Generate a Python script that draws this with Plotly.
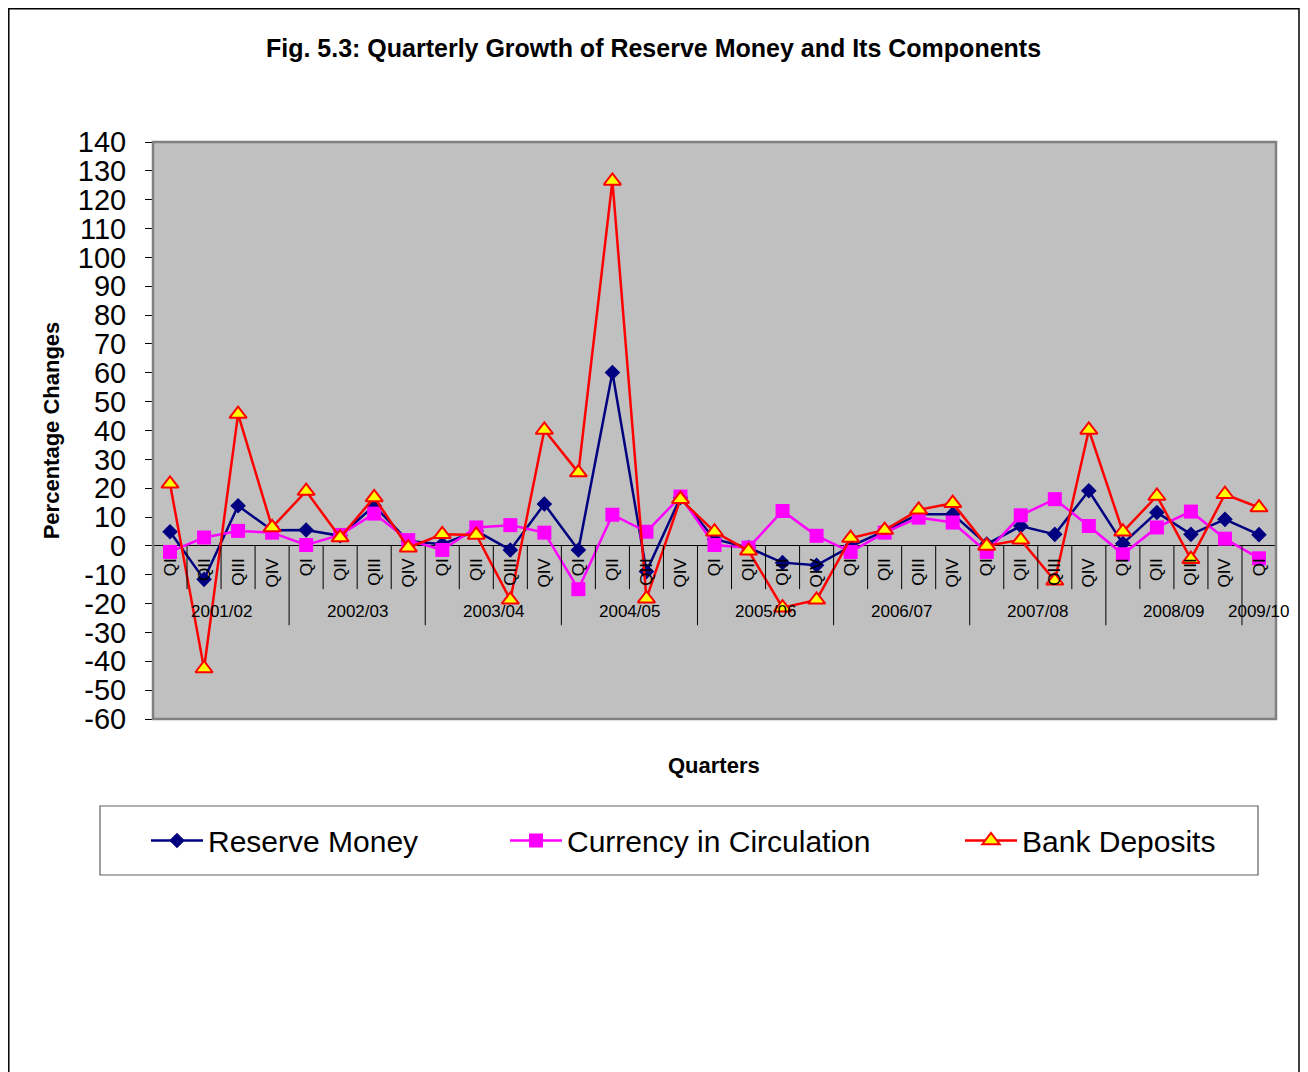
import plotly.graph_objects as go

# Dados
anos = ["2001/02", "2002/03", "2003/04", "2004/05", "2005/06",
        "2006/07", "2007/08", "2008/09", "2009/10"]
trimestres_por_ano = [4, 4, 4, 4, 4, 4, 4, 4, 1]
nomes_trimestre = ["QI", "QII", "QIII", "QIV"]

reserve_money = [4.9, -11.6, 13.9, 5.4, 5.5, 3.5, 13.9, 1.7,
                 0.6, 5.2, -1.4, 14.5, -1.4, 60.1, -8.9, 16.8,
                 2.3, -0.6, -5.8, -6.7, -0.2, 5.2, 11.0, 11.0,
                 0.6, 6.9, 4.0, 19.1, 0.8, 11.6, 4.0, 9.2, 3.9]
currency = [-2.1, 2.9, 5.2, 4.6, 0.3, 3.8, 11.2, 2.0,
            -1.4, 6.4, 7.2, 4.6, -15.0, 10.8, 4.9, 17.1,
            0.3, -0.6, 12.1, 3.5, -2.1, 4.6, 9.8, 8.1,
            -2.1, 10.6, 16.2, 6.9, -2.9, 6.4, 11.9, 2.5, -4.3]
bank_deposits = [21.5, -42.5, 45.7, 6.4, 19.0, 2.9, 16.8, -0.6,
                 4.0, 3.8, -18.7, 40.2, 25.4, 126.5, -18.3, 16.2,
                 4.9, -1.7, -21.4, -18.7, 2.7, 5.5, 12.5, 14.8,
                 0.0, 2.1, -12.1, 40.2, 4.9, 17.3, -4.6, 17.9, 13.3]

y_ticks = list(range(-60, 141, 10))
y_ticktext = [str(v) for v in y_ticks]

# rotulos dos trimestres
rotulos = []
for n in trimestres_por_ano:
    rotulos += nomes_trimestre[:n]
x = list(range(len(rotulos)))

# geometria: a pagina tem margem de 8px no body, entao desconto isso
OFF = 8
W, H = 1308 - OFF, 1072 - OFF
L, R, T, B = 153, 1276, 142, 719  # coordenadas na tela
def px_x(p):
    return (p - L) / (R - L)
def px_y(p):
    return (B - p) / (B - T)

fonte = "Arial, Liberation Sans, sans-serif"
ymin, ymax = -60, 140
pos_zero = (0 - ymin) / (ymax - ymin)

fig = go.Figure()
fig.add_trace(go.Scatter(x=x, y=reserve_money, name="Reserve Money", mode="lines+markers",
                         line=dict(color="#000080", width=2.5),
                         marker=dict(symbol="diamond", size=12, color="#000080"),
                         legend="legend"))
fig.add_trace(go.Scatter(x=x, y=currency, name="Currency in Circulation", mode="lines+markers",
                         line=dict(color="#FF00FF", width=2.5),
                         marker=dict(symbol="square", size=14, color="#FF00FF"),
                         legend="legend2"))
fig.add_trace(go.Scatter(x=x, y=bank_deposits, name="Bank Deposits", mode="lines+markers",
                         line=dict(color="#FF0000", width=2.5),
                         marker=dict(symbol="triangle-up", size=15, color="#FFFF00",
                                     line=dict(color="#FF0000", width=2)),
                         legend="legend3"))

# divisorias entre trimestres e anos
shapes = []
fim = -0.5
for n in trimestres_por_ano:
    for k in range(n):
        borda = fim + 1 + k
        prof = -27.5 if k == n - 1 else -15
        shapes.append(dict(type="line", xref="x", yref="y", x0=borda, x1=borda,
                           y0=0, y1=prof, line=dict(color="black", width=1)))
    fim += n

# area do grafico com borda cinza
shapes.append(dict(type="rect", xref="paper", yref="paper", x0=0, x1=1, y0=0, y1=1,
                   line=dict(color="#808080", width=2.5), layer="above"))
# caixa da legenda
shapes.append(dict(type="rect", xref="paper", yref="paper",
                   x0=px_x(100), x1=px_x(1258), y0=px_y(875), y1=px_y(806),
                   line=dict(color="#606060", width=1.2), fillcolor="white", layer="below"))
# borda externa
shapes.append(dict(type="rect", xref="paper", yref="paper",
                   x0=px_x(8.8), x1=px_x(1299), y0=px_y(1085), y1=px_y(8.8),
                   line=dict(color="black", width=1.5), layer="below"))

annotations = []
inicio = 0
for ano, n in zip(anos, trimestres_por_ano):
    annotations.append(dict(x=inicio + (n - 1) / 2, y=-22.7, xref="x", yref="y",
                            text=ano, showarrow=False,
                            font=dict(family=fonte, size=17, color="black")))
    inicio += n
annotations.append(dict(x=px_x(714), y=px_y(765), xref="paper", yref="paper",
                        xanchor="center", yanchor="middle",
                        text="<b>Quarters</b>", showarrow=False,
                        font=dict(family=fonte, size=22, color="black")))

fig.update_layout(
    width=W, height=H,
    margin=dict(l=L - OFF, r=W - (R - OFF), t=T - OFF, b=H - (B - OFF)),
    paper_bgcolor="white", plot_bgcolor="#C0C0C0",
    font=dict(family=fonte, color="black"),
    title=dict(text="<b>Fig. 5.3: Quarterly Growth of Reserve Money and Its Components</b>",
               x=(653.5 - OFF) / W, xref="container", xanchor="center",
               y=1 - (48 - OFF) / H, yref="container", yanchor="middle",
               font=dict(family=fonte, size=25, color="black")),
    shapes=shapes, annotations=annotations,
    showlegend=True,
)

leg_comum = dict(orientation="h", yanchor="middle", y=px_y(840.5), xanchor="left",
                 bgcolor="rgba(0,0,0,0)", borderwidth=0, itemwidth=52,
                 font=dict(family=fonte, size=30, color="black"))
fig.update_layout(
    legend=dict(x=px_x(146), **leg_comum),
    legend2=dict(x=px_x(505), **leg_comum),
    legend3=dict(x=px_x(960), **leg_comum),
)

fig.update_xaxes(range=[-0.5, len(x) - 0.5], anchor="free", position=pos_zero,
                 tickvals=x, ticktext=rotulos, tickangle=-90,
                 tickfont=dict(family=fonte, size=17, color="black"),
                 ticks="", ticklabelstandoff=8, showline=False, showgrid=False,
                 zeroline=False)
fig.update_yaxes(range=[ymin, ymax], tickvals=y_ticks, ticktext=y_ticktext,
                 tickfont=dict(family=fonte, size=29, color="black"),
                 ticks="outside", ticklen=7, tickcolor="black", showgrid=False,
                 ticklabelstandoff=13,
                 showline=True, linecolor="black", linewidth=1,
                 zeroline=True, zerolinecolor="black", zerolinewidth=1.2,
                 title=dict(text="<b>Percentage Changes</b>", standoff=12,
                            font=dict(family=fonte, size=22, color="black")))

fig.write_html("out.html")
